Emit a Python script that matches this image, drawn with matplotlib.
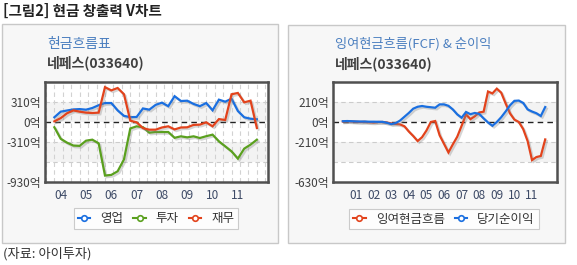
import matplotlib
matplotlib.use("Agg")
import matplotlib.pyplot as plt
import matplotlib.patches as mpatches
import matplotlib.patheffects as pe
from matplotlib.lines import Line2D
import numpy as np

plt.rcParams['font.family'] = ['Noto Sans CJK KR', 'DejaVu Sans']

# ---------------- data ----------------
# Left chart: quarterly, 2003Q4 .. 2011Q4 (unit: 억)
left_start = 2003.75
left_op = [73, 160, 178, 195, 200, 191, 217, 260, 294, 294, 180, 95, 75, 78, 210, 191,
           265, 300, 245, 400, 325, 330, 280, 245, 294, 181, 346, 315, 361, 170, 73, 51, 42]
left_inv = [-82, -260, -320, -365, -370, -290, -274, -330, -830, -820, -764, -580, -100, -67,
            -80, -165, -155, -155, -155, -245, -222, -238, -222, -248, -220, -196, -300, -377,
            -455, -568, -413, -351, -274]
left_fin = [10, 60, 135, 180, 160, 145, 140, 145, 540, 490, 527, 430, 20, -5, -95, -119,
            -119, -85, -67, -115, -85, -82, -45, -41, -5, -67, 45, 31, 430, 450, 305, 330, -93]
left_names = ['영업', '투자', '재무']
left_years = [2004, 2005, 2006, 2007, 2008, 2009, 2010, 2011]
left_year_labels = ['04', '05', '06', '07', '08', '09', '10', '11']
left_yticks = [310, 0, -310, -930]

# Right chart: quarterly, 2000Q2 .. 2011Q4 (unit: 억)
right_start = 2000.25
right_fcf = [5, 8, 5, 3, 0, 2, -3, -5, 0, 0, -5, -15, -20, -25, -45, -100, -147, -200, -160,
             -90, 0, 10, -140, -230, -320, -235, -155, -40, 80, 30, 60, 100, 108, 320, 300,
             350, 308, 195, 90, 25, 0, -75, -200, -400, -368, -357, -183]
right_ni = [8, 10, 8, 6, 5, 5, 3, 3, 2, 2, -8, -22, -12, 15, 55, 95, 140, 160, 168, 160,
            155, 150, 185, 185, 170, 132, 80, 45, 105, 82, 95, 85, 38, -5, -40, 0, 50, 110,
            175, 222, 225, 200, 132, 110, 92, 63, 157]
right_names = ['잉여현금흐름', '당기순이익']
right_years = list(range(2001, 2012))
right_year_labels = ['01', '02', '03', '04', '05', '06', '07', '08', '09', '10', '11']
right_yticks = [210, 0, -210, -630]

# ---------------- styles ----------------
W, H = 577, 265
BLUE = '#1a6fe0'
GREEN = '#5aa01e'
RED = '#e2431c'
SUB_BLUE = '#4a7ebf'
TXT = '#404040'
XT = '#3d4a66'

fig = plt.figure(figsize=(W / 100, H / 100), dpi=100)
fig.patch.set_facecolor('white')


def fx(x):
    return x / W


def fy(y):
    return 1 - y / H


# panels
for (x0, y0, x1, y1) in [(2, 24, 278, 243), (288, 25, 565, 243)]:
    fig.patches.append(mpatches.Rectangle((fx(x0), fy(y1)), fx(x1) - fx(x0), fy(y0) - fy(y1),
                                          transform=fig.transFigure, facecolor='#f7f7f7',
                                          edgecolor='#c8c8c8', lw=1.0, zorder=-10))

fig.text(fx(3), fy(11), '[그림2] 현금 창출력 V차트', fontsize=10.5, fontweight='bold',
         color='#222222', va='center', ha='left')
fig.text(fx(3), fy(253.5), '(자료: 아이투자)', fontsize=9.5, color='#333333', va='center', ha='left')

fig.text(fx(47), fy(44), '현금흐름표', fontsize=10, color=SUB_BLUE, va='center', ha='left')
fig.text(fx(47), fy(63), '네페스(033640)', fontsize=10, color=TXT, fontweight='bold',
         va='center', ha='left')
fig.text(fx(335), fy(44), '잉여현금흐름(FCF) & 순이익', fontsize=9.5, color=SUB_BLUE,
         va='center', ha='left')
fig.text(fx(335), fy(63.5), '네페스(033640)', fontsize=10, color=TXT, fontweight='bold',
         va='center', ha='left')

shadow = [pe.SimpleLineShadow(offset=(1.2, -1.2), shadow_color='#888888', alpha=0.35),
          pe.Normal()]


def setup_axes(rect, xlim, ylim, step, yticks, years, year_labels, vgrid):
    ax = fig.add_axes(rect)
    ax.set_facecolor('white')
    ax.set_xlim(*xlim)
    ax.set_ylim(*ylim)
    # alternating bands
    ax.axhspan(0, step, color='#f3f3f3', zorder=0, lw=0)
    ax.axhspan(-2 * step, -step, color='#f3f3f3', zorder=0, lw=0)
    for v in [step, -step, -2 * step]:
        ax.axhline(v, color='#cccccc', lw=0.8, ls=(0, (4, 3)), zorder=1)
    if vgrid is not None:
        for xv in vgrid:
            ax.axvline(xv, color='#d2d2d2', lw=0.8, ls=(0, (4, 3)), zorder=1)
    ax.axhline(0, color='#222222', lw=1.0, ls=(0, (4, 3)), zorder=2)
    ax.set_yticks(yticks)
    ax.set_yticklabels([f'{v}억' for v in yticks], fontsize=8.5, color=TXT)
    ax.set_xticks(years)
    ax.set_xticklabels(year_labels, fontsize=8.5, color=XT)
    ax.tick_params(length=0, pad=3)
    ax.tick_params(axis='x', pad=5)
    for s in ax.spines.values():
        s.set_color('#505050')
        s.set_linewidth(1.8)
    return ax


# left chart
lx0, lx1 = 2003.38, 2012.19
left_vgrid = [left_start + k / 3 for k in range(-2, 27) if lx0 < left_start + k / 3 < lx1]
axL = setup_axes([fx(45), fy(182), fx(268) - fx(45), fy(82) - fy(182)], (lx0, lx1),
                 (-930, 620), 310, left_yticks, left_years, left_year_labels, left_vgrid)
xl = left_start + np.arange(len(left_op)) * 0.25
for vals, c in [(left_inv, GREEN), (left_op, BLUE), (left_fin, RED)]:
    axL.plot(xl, vals, color=c, lw=1.6, zorder=3, path_effects=shadow,
             solid_joinstyle='miter')

# right chart
axR = setup_axes([fx(333), fy(182), fx(557) - fx(333), fy(82) - fy(182)], (1999.69, 2012.42),
                 (-630, 420), 210, right_yticks, right_years, right_year_labels, None)
xr = right_start + np.arange(len(right_fcf)) * 0.25
for vals, c in [(right_fcf, RED), (right_ni, BLUE)]:
    axR.plot(xr, vals, color=c, lw=1.6, zorder=3, path_effects=shadow,
             solid_joinstyle='miter')


def handle(c):
    return Line2D([0], [0], color=c, lw=1.5, marker='o', markersize=4,
                  markerfacecolor='white', markeredgecolor=c, markeredgewidth=1.2)


legL = fig.legend([handle(BLUE), handle(GREEN), handle(RED)], left_names,
                  loc='center', bbox_to_anchor=(fx(156), fy(218.5)), ncol=3,
                  fontsize=9, frameon=True, fancybox=False, edgecolor='#c0c0c0',
                  handlelength=1.0, columnspacing=0.8, handletextpad=0.8,
                  borderpad=0.3, labelcolor='#333333')
legL.get_frame().set_linewidth(0.8)
legR = fig.legend([handle(RED), handle(BLUE)], right_names,
                  loc='center', bbox_to_anchor=(fx(444), fy(219)), ncol=2,
                  fontsize=9, frameon=True, fancybox=False, edgecolor='#c0c0c0',
                  handlelength=1.0, columnspacing=0.8, handletextpad=0.8,
                  borderpad=0.3, labelcolor='#333333')
legR.get_frame().set_linewidth(0.8)

fig.savefig('out.png', dpi=100, facecolor='white')
